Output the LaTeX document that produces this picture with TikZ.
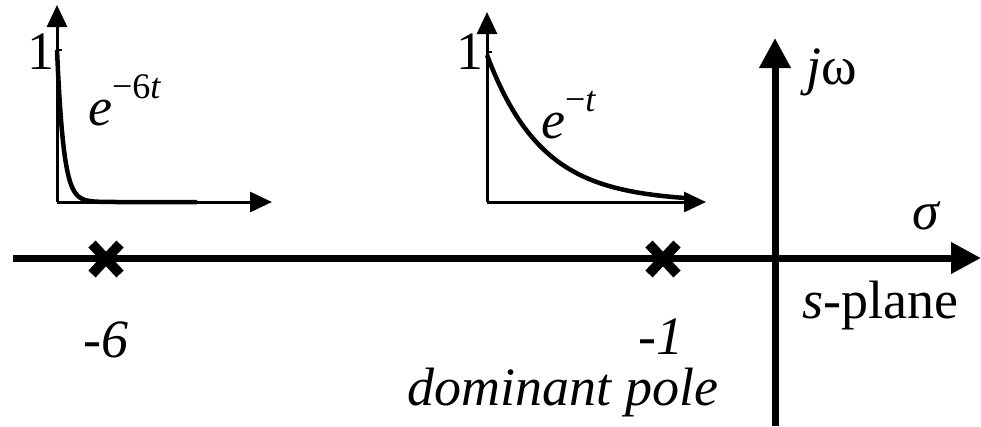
\documentclass[tikz,border=0pt]{standalone}
\usepackage{fontspec}
\setmainfont{LiberationSerif-Regular.ttf}[ItalicFont=LiberationSerif-Italic.ttf,BoldFont=LiberationSerif-Bold.ttf]
\usetikzlibrary{arrows.meta}
\begin{document}
\begin{tikzpicture}[x=1pt,y=-1pt,
  bigaxis/.style={line width=7pt,-{Triangle[length=30pt,width=30pt]}},
  smallaxis/.style={line width=3pt,-{Triangle[length=22pt,width=20pt]}},
  curve/.style={line width=4.5pt},
  polex/.style={line width=10pt},
  lbl/.style={inner sep=0pt,font=\fontsize{54}{60}\selectfont},
  ilbl/.style={inner sep=0pt,font=\fontsize{54}{60}\selectfont\itshape}]
\useasboundingbox (0,0) rectangle (981,426);
% main axes
\coordinate (hL) at (13,258);
\coordinate (hR) at (981,258);
\coordinate (vB) at (775,426);
\coordinate (vT) at (775,38);
\draw[bigaxis] (hL) -- (hR);
\draw[bigaxis] (vB) -- (vT);
% poles
\coordinate (p6) at (106,259);
\coordinate (p1) at (663,259);
\foreach \p in {p6,p1}{
  \draw[polex] ([shift={(-14,-15)}]\p) -- ([shift={(14,15)}]\p);
  \draw[polex] ([shift={(-14,15)}]\p) -- ([shift={(14,-15)}]\p);
}
% labels
\node[ilbl] (l6) at (106,340) {-6};
\node[ilbl] (l1) at (661,337) {-1};
\node[ilbl,anchor=base] (dom) at (563,405) {dominant pole};
\node[lbl,anchor=base west] (sp) at (802,318) {{\itshape s}-plane};
\node[lbl] (sig) at (926,216) {\itshape σ};
\node[lbl] (jw) at (832,72) {{\itshape j}ω};
% small plot 1
\coordinate (o1) at (57,202);
\draw[smallaxis] (o1) -- (57,5);
\draw[smallaxis] (o1) -- (272,202);
\draw[line width=2pt] (57,50) -- (62,50);
\node[lbl] (one1) at (41,52) {1};
\draw[curve] plot[domain=0:140,samples=120] ({57+\x},{202-152*exp(-\x/6.5)});
\node[lbl,anchor=base west] (e6) at (88,125) {\itshape e\raisebox{0.5em}{\fontsize{36}{40}\selectfont\upshape −6\itshape t}};
% small plot 2
\coordinate (o2) at (487,202);
\draw[smallaxis] (o2) -- (487,12);
\draw[smallaxis] (o2) -- (706,202);
\draw[line width=2pt] (487,52) -- (492,52);
\node[lbl] (one2) at (470,52) {1};
\draw[curve] plot[domain=0:205,samples=120] ({487+\x},{202-147*exp(-\x/55)});
\node[lbl,anchor=base west] (e1) at (541,138) {\itshape e\raisebox{0.5em}{\fontsize{36}{40}\selectfont\upshape −\itshape t}};
\end{tikzpicture}
\end{document}
